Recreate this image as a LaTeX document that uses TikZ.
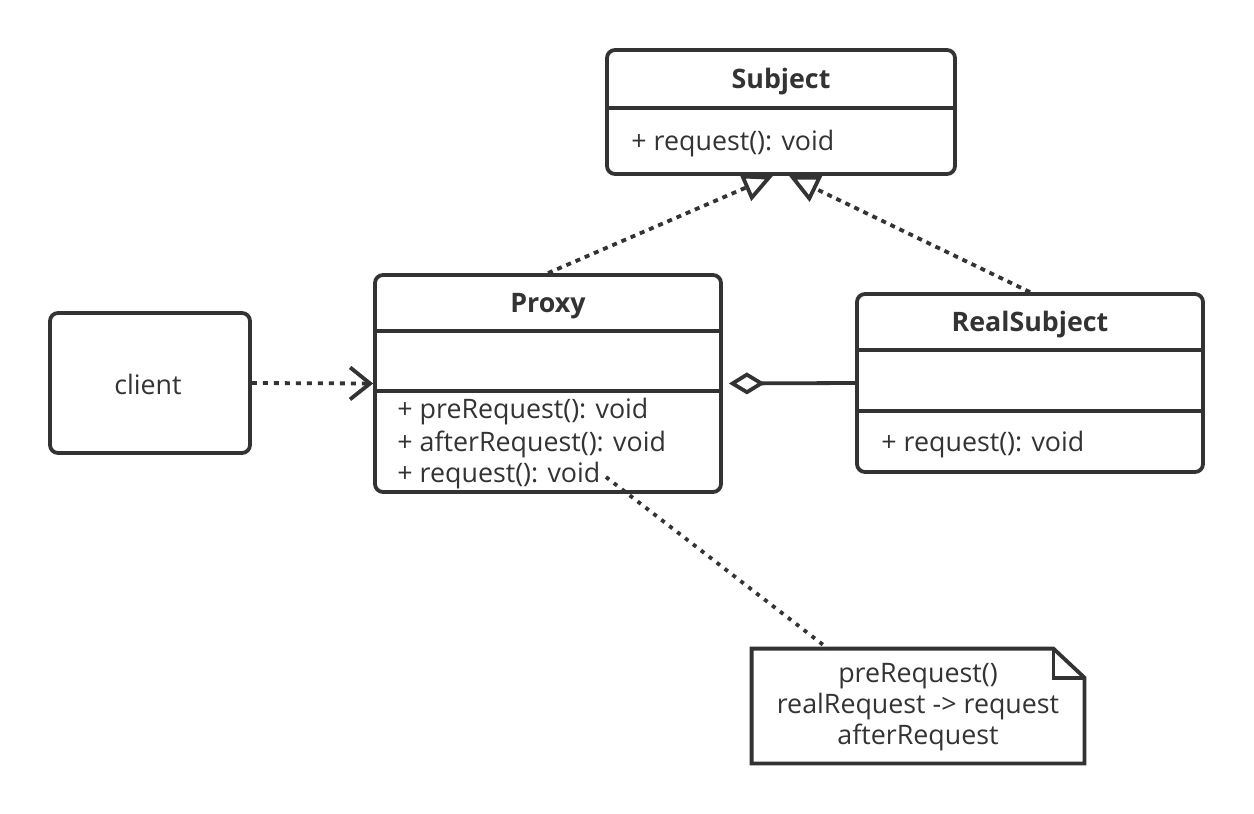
\documentclass[tikz,border=0pt]{standalone}
\usepackage{fontspec}
\setmainfont{Open Sans}
\usetikzlibrary{arrows.meta}
\definecolor{umlGray}{HTML}{333333}

\begin{document}
\begin{tikzpicture}[
    x=0.5pt, y=-0.5pt,
    % Define the style for the class boxes
    classBox/.style={
        rectangle,
        draw=umlGray,
        fill=white,
        line width=1.9pt,
        rounded corners=4pt,
        inner sep=0pt
    },
    % Define the style for the class names
    titleText/.style={
        text=umlGray,
        inner sep=0pt,
        font=\fontsize{13.4pt}{16pt}\selectfont\bfseries
    },
    % Define the style for the members
    memberText/.style={
        text=umlGray,
        inner sep=0pt,
        anchor=west,
        font=\fontsize{13.4pt}{16pt}\selectfont
    },
    % Define the style for the note
    noteBox/.style={
        rectangle,
        draw=none,
        text=umlGray,
        align=center,
        inner sep=0pt,
        minimum width=166pt,
        minimum height=56pt,
        font=\fontsize{13.4pt}{15.5pt}\selectfont
    },
    % Define the style for the separators
    sepLine/.style={
        draw=umlGray,
        line width=1.9pt
    },
    % Define the style for the connections
    realLink/.style={
        draw=umlGray,
        line width=1.9pt,
        dash pattern=on 2.5pt off 2.5pt,
        -{Triangle[open, length=15pt, width=14pt, line width=1.9pt]}
    },
    depLink/.style={
        draw=umlGray,
        line width=1.9pt,
        dash pattern=on 2.5pt off 3pt,
        -{Straight Barb[length=10pt, width=16pt, line width=1.9pt]}
    },
    aggLink/.style={
        draw=umlGray,
        line width=1.9pt,
        {Diamond[open, length=18pt, width=11pt, line width=1.9pt]}-,
        shorten <=3pt
    },
    noteLink/.style={
        draw=umlGray,
        line width=1.9pt,
        dash pattern=on 2pt off 3pt
    }
]

    % --- CANVAS ---
    \useasboundingbox (0,0) rectangle (1254,814);

    % --- CLASS BOXES ---
    \node[classBox, minimum width=174pt, minimum height=62pt] (subject) at (781,112) {};
    \node[classBox, minimum width=173pt, minimum height=108.5pt] (proxy) at (548,383.5) {};
    \node[classBox, minimum width=173pt, minimum height=89pt] (realSubject) at (1030,383) {};
    \node[classBox, minimum width=100pt, minimum height=70pt] (client) at (150,383) {};

    % Compartment separators (measured from the top edge)
    \draw[sepLine] ([yshift=-30pt]subject.north west) -- ([yshift=-30pt]subject.north east);
    \draw[sepLine] ([yshift=-29pt]proxy.north west) -- ([yshift=-29pt]proxy.north east);
    \draw[sepLine] ([yshift=-59pt]proxy.north west) -- ([yshift=-59pt]proxy.north east);
    \draw[sepLine] ([yshift=-29pt]realSubject.north west) -- ([yshift=-29pt]realSubject.north east);
    \draw[sepLine] ([yshift=-59.5pt]realSubject.north west) -- ([yshift=-59.5pt]realSubject.north east);

    % --- TEXTS ---
    \node[titleText] (subjectName) at (781,82) {Subject};
    \node[memberText] (subjectReq) at (631,144) {+ request(): void};

    \node[titleText] (proxyName) at (548,306) {Proxy};
    % Proxy operations, one line every 32px
    \foreach \i/\op in {0/preRequest, 1/afterRequest, 2/request} {
        \node[memberText] (proxyOp\i) at (397,{412+\i*32}) {+ \op(): void};
    }

    \node[titleText] (realName) at (1030,325) {RealSubject};
    \node[memberText] (realReq) at (881,445) {+ request(): void};

    \node[text=umlGray, inner sep=0pt, font=\fontsize{13.4pt}{16pt}\selectfont] (clientName) at (148,384) {client};

    % --- NOTE ---
    \node[noteBox] (note) at (918,707) {preRequest()\\realRequest -> request\\afterRequest};
    \draw[sepLine]
        ([yshift=1pt]note.north west) -- ([xshift=-15.5pt, yshift=1pt]note.north east)
        -- ([yshift=-13.5pt]note.north east) -- (note.south east)
        -- (note.south west) -- cycle;
    \draw[sepLine]
        ([xshift=-15.5pt, yshift=1pt]note.north east) -- ([xshift=-15.5pt, yshift=-13.5pt]note.north east)
        -- ([yshift=-13.5pt]note.north east);

    % --- EDGES ---
    % Realizations of Subject
    \draw[realLink] (proxy.north) -- ([xshift=-4pt]subject.south);
    \draw[realLink] (realSubject.north) -- ([xshift=4pt]subject.south);

    % client uses Proxy
    \draw[depLink] (client.east) -- (proxy.west);

    % Proxy holds a RealSubject
    \draw[aggLink] (proxy.east) -- (realSubject.west);

    % Note attached to request()
    \coordinate (noteHook) at (606,477);
    \draw[noteLink] (noteHook) -- ([xshift=-45pt, yshift=1pt]note.north);

\end{tikzpicture}
\end{document}
